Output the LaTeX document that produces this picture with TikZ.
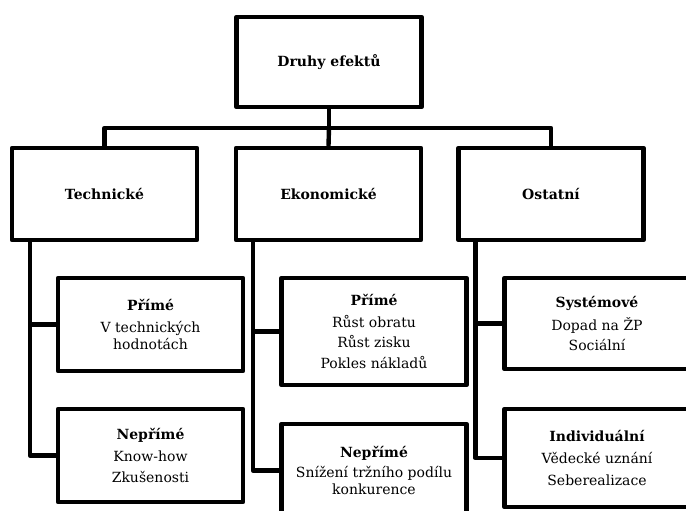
\documentclass[tikz,border=0pt]{standalone}
\usepackage{fontspec}
\setmainfont{DejaVu Serif}
\begin{document}
\begin{tikzpicture}[x=1pt,y=-1pt,
  box/.style={draw, line width=4.4pt, line join=round, rectangle, align=center,
    font=\fontsize{14}{16.8}\selectfont, inner sep=0pt,
    minimum width=185pt},
  conn/.style={line width=4.4pt, line join=round}]
\clip (0,0) rectangle (686,511);
\fill[white] (0,0) rectangle (686,511);
% top
\node[box, minimum height=90pt] (top) at (329,62) {\textbf{Druhy efektů}};
% level 1
\node[box, minimum height=92pt] (tech) at (104.5,194) {\textbf{Technické}};
\node[box, minimum height=92pt] (eko) at (328.5,194) {\textbf{Ekonomické}};
\node[box, minimum height=92pt] (ost) at (551,194) {\textbf{Ostatní}};
% level 2
\node[box, minimum height=93pt] (t1) at (150.5,324.5) {\textbf{Přímé}\\[5pt] V technických\\ hodnotách};
\node[box, minimum height=93pt] (t2) at (150.5,455.5) {\textbf{Nepřímé}\\[5pt] Know-how\\[5pt] Zkušenosti};
\node[box, minimum height=107pt] (e1) at (374,331.5) {\textbf{Přímé}\\[5pt] Růst obratu\\[4pt] Růst zisku\\[4pt] Pokles nákladů};
\node[box, minimum height=93pt] (e2) at (374,470.5) {\textbf{Nepřímé}\\[3.5pt] Snížení tržního podílu\\ konkurence};
\node[box, minimum height=91pt] (o1) at (597,323.5) {\textbf{Systémové}\\[6pt] Dopad na ŽP\\[4pt] Sociální};
\node[box, minimum height=98pt] (o2) at (597,458) {\textbf{Individuální}\\[5pt] Vědecké uznání\\[5pt] Seberealizace};
% connectors
\coordinate (bus) at (329,128);
\draw[conn] (top.south) -- (bus);
\draw[conn] (tech.north) |- (bus) -| (ost.north);
\draw[conn] (bus) -- (eko.north);
\draw[conn] (tech.south west) ++(20,0) |- (t1.west);
\draw[conn] (tech.south west) ++(20,0) |- (t2.west);
\draw[conn] (eko.south west) ++(19,0) |- (e1.west);
\draw[conn] (eko.south west) ++(19,0) |- (e2.west);
\draw[conn] (ost.south west) ++(19,0) |- (o1.west);
\draw[conn] (ost.south west) ++(19,0) |- (o2.west);
\end{tikzpicture}
\end{document}
